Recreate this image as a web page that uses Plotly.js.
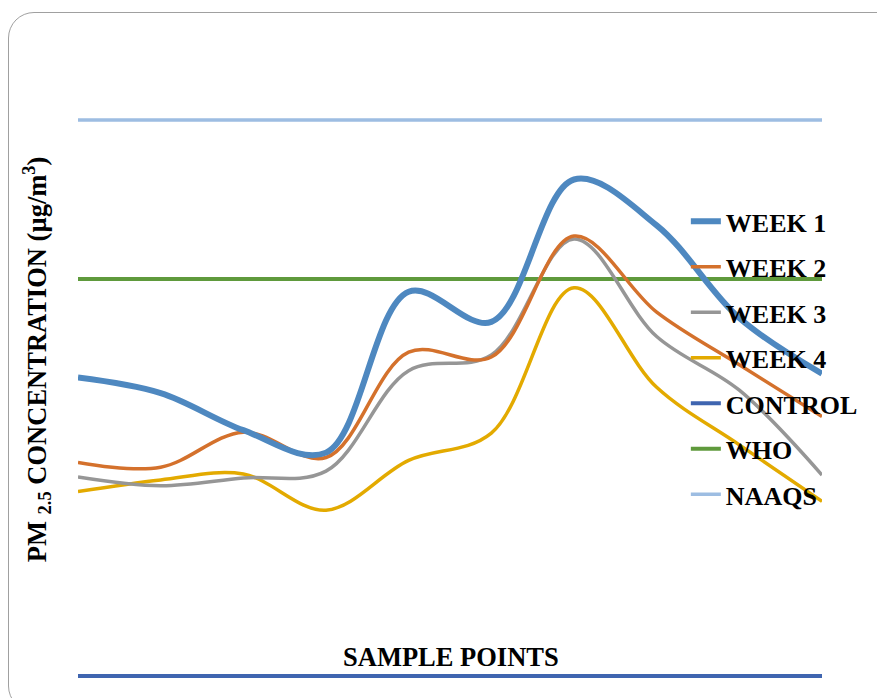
<!DOCTYPE html>
<html>
<head>
<meta charset="utf-8">
<script src="https://cdn.plot.ly/plotly-3.0.1.min.js"></script>
<style>
  html, body { margin: 0; padding: 0; background: #fff; }
  #wrap { position: relative; width: 877px; height: 698px; overflow: hidden; }
  #chart { width: 877px; height: 698px; }
  #frame { position: absolute; left: 8px; top: 12px; width: 900px; height: 700px;
           border: 1.3px solid #a0a0a0; border-radius: 26px; pointer-events: none; box-sizing: border-box; }
</style>
</head>
<body>
<div id="wrap">
  <div id="chart"></div>
  <div id="frame"></div>
</div>
<script>
// Sample point categories (unlabelled on the original axis)
const samplePoints = ["SP1", "SP2", "SP3", "SP4", "SP5", "SP6", "SP7", "SP8", "SP9", "SP10"];

// PM2.5 concentration series (relative units)
const week1 = [33.6, 32.0, 28.2, 25.9, 42.4, 39.3, 53.9, 49.2, 39.7, 34.0];
const week2 = [24.9, 24.4, 28.0, 25.4, 36.2, 35.7, 48.1, 40.3, 34.9, 29.6];
const week3 = [23.4, 22.5, 23.3, 24.0, 34.3, 35.9, 47.8, 37.8, 32.3, 23.6];
const week4 = [21.9, 23.1, 23.7, 20.0, 25.1, 27.9, 42.8, 32.6, 26.7, 20.9];
const control = [3, 3, 3, 3, 3, 3, 3, 3, 3, 3];
const who = [43.7, 43.7, 43.7, 43.7, 43.7, 43.7, 43.7, 43.7, 43.7, 43.7];
const naaqs = [60, 60, 60, 60, 60, 60, 60, 60, 60, 60];

const seriesNames = ["WEEK 1", "WEEK 2", "WEEK 3", "WEEK 4", "CONTROL", "WHO", "NAAQS"];
const seriesData = [week1, week2, week3, week4, control, who, naaqs];
const seriesColors = ["#4e88c0", "#d4712c", "#969696", "#e3aa00", "#3f65b0", "#5f9a3c", "#9dbde2"];
const seriesWidths = [6, 3.5, 3.5, 3.5, 4, 4, 3.5];
const seriesSmooth = [true, true, true, true, false, false, false];

const xIdx = samplePoints.map((_, i) => i);

const traces = seriesNames.map((name, k) => ({
  type: "scatter",
  mode: "lines",
  name: "<b>" + name + "</b>",
  legendgroup: "g" + k,
  legendrank: k + 1,
  x: xIdx,
  y: seriesData[k],
  line: {
    color: seriesColors[k],
    width: seriesWidths[k],
    shape: seriesSmooth[k] ? "spline" : "linear",
    smoothing: 1
  },
  hoverinfo: "skip"
}));

// reference lines drawn first so the weekly curves sit on top
const ordered = traces.slice().reverse();

const FAMILY = "Liberation Serif";

const layout = {
  width: 877,
  height: 698,
  margin: { l: 78, r: 55, t: 60, b: 8, autoexpand: false },
  paper_bgcolor: "#ffffff",
  plot_bgcolor: "#ffffff",
  font: { family: FAMILY, color: "#000" },
  showlegend: true,
  legend: {
    xref: "paper", yref: "paper",
    x: 0.817, xanchor: "left",
    y: 0.781, yanchor: "top",
    bgcolor: "rgba(0,0,0,0)",
    traceorder: "grouped",
    tracegroupgap: 8.7,
    font: { family: FAMILY, size: 26, color: "#000" }
  },
  xaxis: {
    range: [0, samplePoints.length - 1],
    showgrid: false, zeroline: false, showline: false,
    showticklabels: false, ticks: "", fixedrange: true
  },
  yaxis: {
    range: [1.565, 66.15],
    showgrid: false, zeroline: false, showline: false,
    showticklabels: false, ticks: "", fixedrange: true
  },
  annotations: [
    {
      text: "<b>SAMPLE POINTS</b>",
      xref: "paper", yref: "paper",
      x: 0.5007, y: 0.0524, xanchor: "center", yanchor: "middle",
      showarrow: false,
      font: { family: FAMILY, size: 26.5, color: "#000" }
    },
    {
      text: "<b>PM <sub>2.5</sub> CONCENTRATION (µg/m<sup>3</sup>)</b>",
      xref: "paper", yref: "paper",
      x: -0.0551, y: 0.525, xanchor: "center", yanchor: "middle",
      textangle: -90,
      showarrow: false,
      font: { family: FAMILY, size: 26.5, color: "#000" }
    }
  ]
};

Plotly.newPlot("chart", ordered, layout, { displayModeBar: false, staticPlot: true });
</script>
</body>
</html>
